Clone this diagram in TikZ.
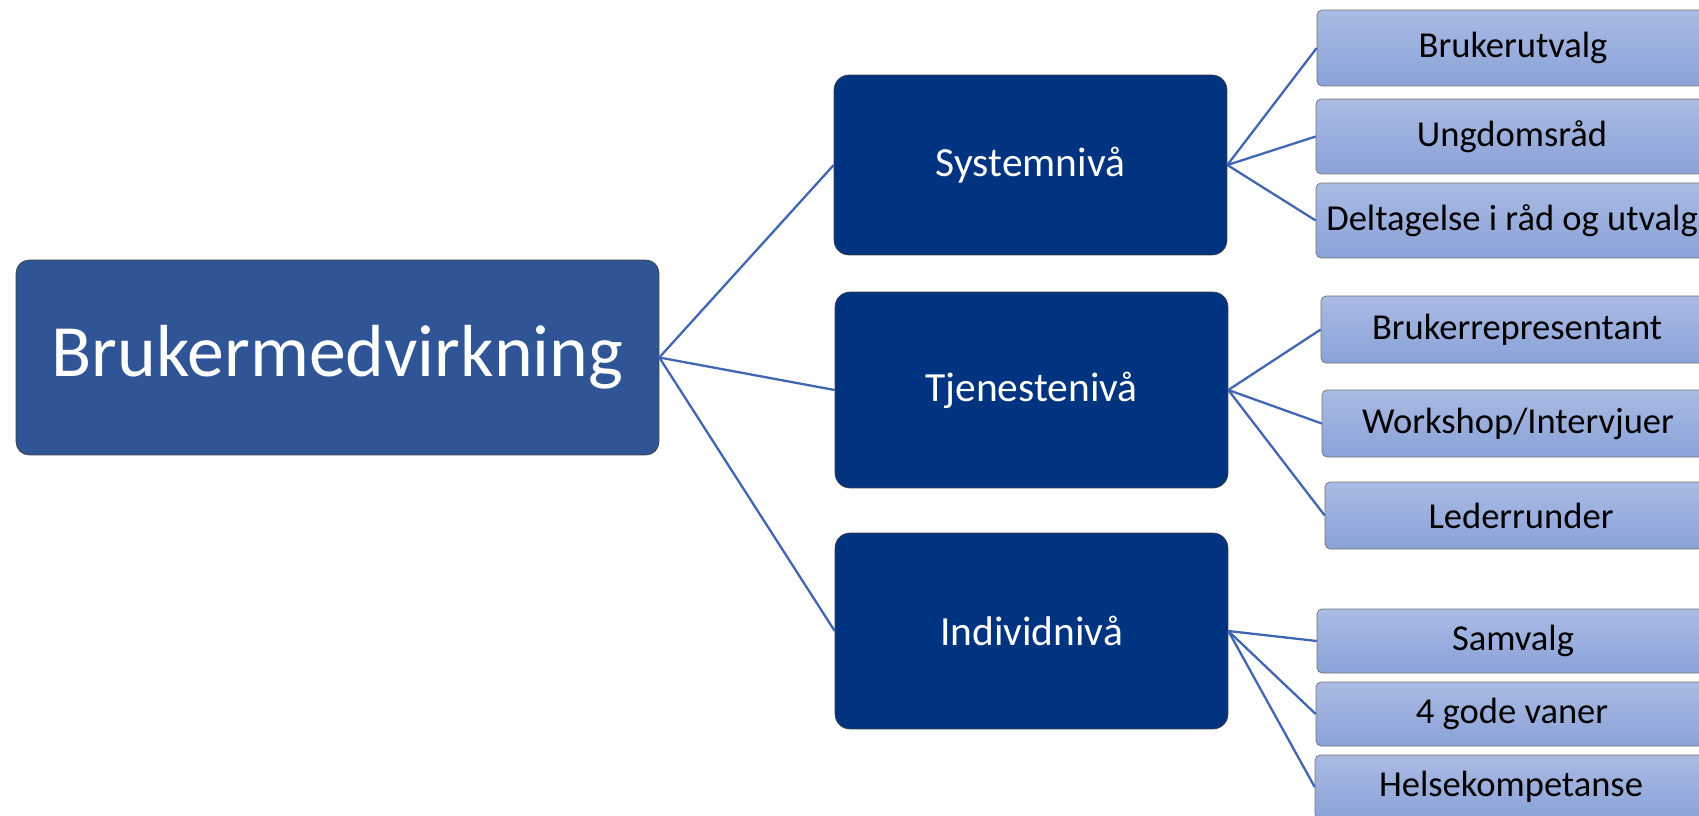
\documentclass[tikz,border=0pt]{standalone}
\usepackage{fontspec}
\setmainfont{Carlito}
\definecolor{rootblue}{HTML}{2F5597}
\definecolor{levelblue}{HTML}{003380}
\definecolor{leaftop}{HTML}{AABBE3}
\definecolor{leafbot}{HTML}{8AA2D8}
\definecolor{linkblue}{HTML}{3F65B3}
\tikzset{
	rootbox/.style={draw=black!75, fill=rootblue, rounded corners=0.26cm, minimum width=12.86cm, minimum height=3.9cm, inner sep=0pt, text=white, font=\fontsize{42}{48}\selectfont},
	levelbox/.style={draw=black!75, fill=levelblue, rounded corners=0.3cm, minimum width=7.86cm, inner sep=0pt, text=white, font=\fontsize{23.6}{28}\selectfont},
	leafbox/.style={draw=black!55, top color=leaftop, bottom color=leafbot, rounded corners=0.1cm, minimum width=7.84cm, inner sep=0pt, font=\fontsize{20.8}{25}\selectfont},
	link/.style={draw=linkblue, line width=1.3pt}
}

\begin{document}
\begin{tikzpicture}[x=0.02cm, y=-0.02cm]
		%%%%% START %%%%%
		
		\useasboundingbox (0, 0) rectangle (1699, 815);
		\clip (0, 0) rectangle (1699, 815);
		
		\node[rootbox] (root) at (337.5, 357.5) {Brukermedvirkning};
		
		\node[levelbox, minimum height=3.6cm] (system) at (1030.5, 165) {Systemnivå};
		\node[levelbox, minimum height=3.92cm] (tjeneste) at (1031.5, 390) {Tjenestenivå};
		\node[levelbox, minimum height=3.92cm] (individ) at (1031.5, 631) {Individnivå};
		
		\node[leafbox, minimum height=1.52cm] (utvalg) at (1513, 48) {Brukerutvalg};
		\node[leafbox, minimum height=1.5cm] (ungdom) at (1512, 136.5) {Ungdomsråd};
		\node[leafbox, minimum height=1.5cm] (deltagelse) at (1512, 220.5) {Deltagelse i råd og utvalg};
		
		\node[leafbox, minimum height=1.34cm] (representant) at (1517, 329.5) {Brukerrepresentant};
		\node[leafbox, minimum height=1.34cm] (workshop) at (1518, 423.5) {Workshop/Intervjuer};
		\node[leafbox, minimum height=1.34cm] (lederrunder) at (1521, 515.5) {Lederrunder};
		
		\node[leafbox, minimum height=1.28cm] (samvalg) at (1513, 641) {Samvalg};
		\node[leafbox, minimum height=1.28cm] (vaner) at (1512, 714) {4 gode vaner};
		\node[leafbox, minimum height=1.28cm] (helse) at (1511, 787) {Helsekompetanse};
		
		\draw[link] (root.east) -- (system.west);
		\draw[link] (root.east) -- (tjeneste.west);
		\draw[link] (root.east) -- (individ.west);
		
		\draw[link] (system.east) -- (utvalg.west);
		\draw[link] (system.east) -- (ungdom.west);
		\draw[link] (system.east) -- (deltagelse.west);
		
		\draw[link] (tjeneste.east) -- (representant.west);
		\draw[link] (tjeneste.east) -- (workshop.west);
		\draw[link] (tjeneste.east) -- (lederrunder.west);
		
		\draw[link] (individ.east) -- (samvalg.west);
		\draw[link] (individ.east) -- (vaner.west);
		\draw[link] (individ.east) -- (helse.west);
		
		%%%%% END %%%%%
\end{tikzpicture}
\end{document}
